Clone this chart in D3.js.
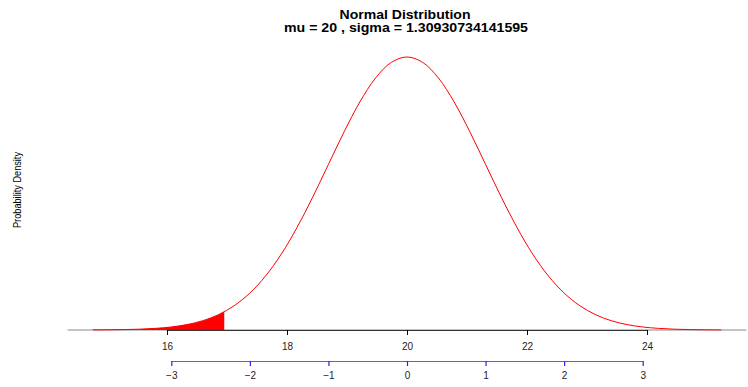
<!DOCTYPE html>
<html>
<head>
<meta charset="utf-8">
<script src="https://cdn.jsdelivr.net/npm/d3@7"></script>
<style>
  body { margin: 0; background: #fff; }
  text { font-family: "Liberation Sans", Arial, sans-serif; }
</style>
</head>
<body>
<div id="chart"></div>
<script>
// chart size
var svgWidth = 748;
var svgHeight = 387;

// distribution parameters (from the title)
var mu = 20;
var sigma = 1.30930734141595;

var zPoints = [-4, -3.8, -3.6, -3.4, -3.2, -3, -2.8, -2.6, -2.4, -2.2, -2, -1.8, -1.6, -1.4, -1.2, -1, -0.8, -0.6, -0.4, -0.2,
  0, 0.2, 0.4, 0.6, 0.8, 1, 1.2, 1.4, 1.6, 1.8, 2, 2.2, 2.4, 2.6, 2.8, 3, 3.2, 3.4, 3.6, 3.8, 4];
var density = [0.0001, 0.00022, 0.00047, 0.00094, 0.00182, 0.00338, 0.00605, 0.01037, 0.0171, 0.02709, 0.04124, 0.0603, 0.08472,
  0.11436, 0.14831, 0.18481, 0.22126, 0.25451, 0.28127, 0.29867, 0.3047, 0.29867, 0.28127, 0.25451, 0.22126, 0.18481, 0.14831,
  0.11436, 0.08472, 0.0603, 0.04124, 0.02709, 0.0171, 0.01037, 0.00605, 0.00338, 0.00182, 0.00094, 0.00047, 0.00022, 0.0001];

// shaded lower tail (1%), ends at z = -2.326
var shadeZ = [-4, -3.8, -3.6, -3.4, -3.2, -3, -2.8, -2.6, -2.4, -2.326];
var shadeDensity = [0.0001, 0.00022, 0.00047, 0.00094, 0.00182, 0.00338, 0.00605, 0.01037, 0.0171, 0.02037];

// tick labels
var xTicks = [16, 18, 20, 22, 24];
var zTicks = [-3, -2, -1, 0, 1, 2, 3];

var curveData = zPoints.map((z, i) => ({x: mu + z * sigma, y: density[i]}));
var shadeData = shadeZ.map((z, i) => ({x: mu + z * sigma, y: shadeDensity[i]}));

var svg = d3.select("#chart")
  .append("svg")
  .attr("width", svgWidth)
  .attr("height", svgHeight);

// scales
var xExt = d3.extent(curveData, d => d.x);
var pad = (xExt[1] - xExt[0]) * 0.04;
var xScale = d3.scaleLinear()
  .domain([xExt[0] - pad, xExt[1] + pad])
  .range([67.6, 746.4]);

var yScale = d3.scaleLinear()
  .domain([0, d3.max(density)])
  .range([330, 57]);

var zScale = d3.scaleLinear()
  .domain([d3.min(zTicks), d3.max(zTicks)])
  .range([xScale(mu + d3.min(zTicks) * sigma), xScale(mu + d3.max(zTicks) * sigma)]);

// baseline across the plot
svg.append("line")
  .attr("x1", xScale.range()[0])
  .attr("x2", xScale.range()[1])
  .attr("y1", yScale(0))
  .attr("y2", yScale(0))
  .attr("stroke", "#8a8a8a")
  .attr("stroke-width", 1.2);

// shaded tail
var area = d3.area()
  .x(d => xScale(d.x))
  .y0(yScale(0))
  .y1(d => yScale(d.y))
  .curve(d3.curveCatmullRom);

svg.append("path")
  .datum(shadeData)
  .attr("d", area)
  .attr("fill", "#ff0000");

// density curve
var line = d3.line()
  .x(d => xScale(d.x))
  .y(d => yScale(d.y))
  .curve(d3.curveCatmullRom);

svg.append("path")
  .datum(curveData)
  .attr("d", line)
  .attr("fill", "none")
  .attr("stroke", "#ff0000")
  .attr("stroke-width", 1);

// x axis (data units)
var xAxis = svg.append("g")
  .attr("transform", `translate(0, ${yScale(0)})`)
  .call(d3.axisBottom(xScale).tickValues(xTicks).tickSize(5).tickPadding(8).tickSizeOuter(0));
xAxis.select(".domain")
  .attr("d", `M${xScale(d3.min(xTicks))},0.5H${xScale(d3.max(xTicks))}`)
  .attr("stroke", "#333");
xAxis.selectAll(".tick line").attr("stroke", "#000");
xAxis.selectAll("text")
  .attr("font-size", 10)
  .attr("fill", "#222")
  .style("font-family", "Liberation Sans, Arial, sans-serif");

// z axis (standard units)
var zAxis = svg.append("g")
  .attr("transform", "translate(0, 361)")
  .call(d3.axisBottom(zScale).tickValues(zTicks).tickSize(5).tickPadding(6).tickSizeOuter(0)
    .tickFormat(d => d < 0 ? "\u2212" + Math.abs(d) : d));
zAxis.select(".domain").attr("stroke", "#5a5aff").attr("stroke-width", 1.2);
zAxis.selectAll(".tick line").attr("stroke", "#2020ff").attr("stroke-width", 1.2);
zAxis.selectAll("text")
  .attr("font-size", 10)
  .attr("fill", "#222")
  .style("font-family", "Liberation Sans, Arial, sans-serif");

// title
svg.append("text")
  .attr("x", 405)
  .attr("y", 19)
  .attr("text-anchor", "middle")
  .attr("font-size", 12)
  .attr("font-weight", "bold")
  .attr("textLength", 131)
  .attr("lengthAdjust", "spacingAndGlyphs")
  .text("Normal Distribution");
svg.append("text")
  .attr("x", 406)
  .attr("y", 32)
  .attr("text-anchor", "middle")
  .attr("font-size", 12)
  .attr("font-weight", "bold")
  .attr("textLength", 244)
  .attr("lengthAdjust", "spacingAndGlyphs")
  .text("mu = 20 , sigma = 1.30930734141595");

// y label
svg.append("text")
  .attr("transform", "translate(21, 190) rotate(-90)")
  .attr("text-anchor", "middle")
  .attr("font-size", 10)
  .attr("textLength", 76)
  .attr("lengthAdjust", "spacingAndGlyphs")
  .text("Probability Density");
</script>
</body>
</html>
